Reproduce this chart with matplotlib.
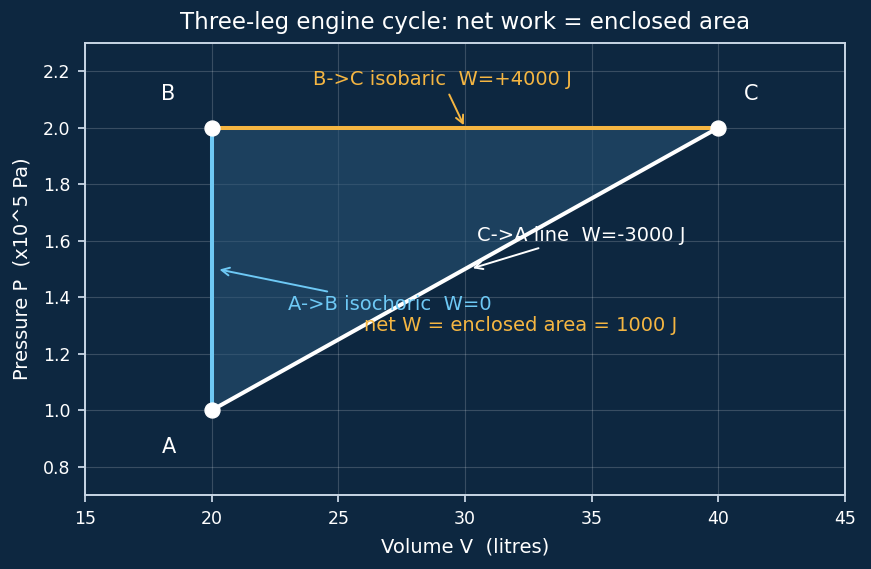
import matplotlib
matplotlib.use("Agg")
import matplotlib.pyplot as plt

# data
V_pts = [20, 20, 40]      # A, B, C (litres)
P_pts = [1.0, 2.0, 2.0]   # x10^5 Pa
names = ["A", "B", "C"]
name_pos = [(18.3, 0.87), (18.3, 2.12), (41.3, 2.12)]

BG = "#0d2740"
ORANGE = "#f5b642"
BLUE = "#6ec9f5"
WHITE = "#ffffff"
SPINE = "#c8d6e5"

fig = plt.figure(figsize=(8.71, 5.69), dpi=100, facecolor=BG)
ax = fig.add_axes([85/871, 1-495/569, 760/871, 452/569], facecolor=BG)

ax.fill(V_pts, P_pts, color="#2a5677", alpha=0.55, zorder=1, lw=0)
ax.plot([V_pts[0], V_pts[1]], [P_pts[0], P_pts[1]], color=BLUE, lw=2.9, zorder=3)
ax.plot([V_pts[1], V_pts[2]], [P_pts[1], P_pts[2]], color=ORANGE, lw=2.9, zorder=3)
ax.plot([V_pts[2], V_pts[0]], [P_pts[2], P_pts[0]], color=WHITE, lw=2.9, zorder=3)
ax.scatter(V_pts, P_pts, s=115, color=WHITE, zorder=5)

for n, (x, y) in zip(names, name_pos):
    ax.text(x, y, n, color=WHITE, fontsize=15, ha="center", va="center")

ax.annotate("B->C isobaric  W=+4000 J", xy=(30, 2.0), xytext=(29.1, 2.17),
            color=ORANGE, fontsize=14, ha="center", va="center",
            arrowprops=dict(arrowstyle="->", color=ORANGE, lw=1.4))
ax.annotate("C->A line  W=-3000 J", xy=(30.2, 1.5), xytext=(34.6, 1.62),
            color=WHITE, fontsize=14, ha="center", va="center",
            arrowprops=dict(arrowstyle="->", color=WHITE, lw=1.4))
ax.annotate("A->B isochoric  W=0", xy=(20.2, 1.5), xytext=(27.05, 1.375),
            color=BLUE, fontsize=14, ha="center", va="center",
            arrowprops=dict(arrowstyle="->", color=BLUE, lw=1.4))
ax.text(32.2, 1.3, "net W = enclosed area = 1000 J", color=ORANGE,
        fontsize=14, ha="center", va="center")

ax.set_xlim(15, 45)
ax.set_ylim(0.7, 2.3)
ax.set_xticks([15, 20, 25, 30, 35, 40, 45])
ax.set_yticks([0.8, 1.0, 1.2, 1.4, 1.6, 1.8, 2.0, 2.2])
ax.set_yticklabels(["0.8", "1.0", "1.2", "1.4", "1.6", "1.8", "2.0", "2.2"])
ax.grid(True, color=WHITE, alpha=0.18, lw=0.8)
ax.set_axisbelow(True)
for s in ax.spines.values():
    s.set_color(SPINE)
    s.set_linewidth(1.4)
ax.tick_params(colors=SPINE, labelcolor=WHITE, labelsize=12.5, length=5, width=1.3, pad=5.5)
ax.set_xlabel("Volume V  (litres)", color=WHITE, fontsize=14, labelpad=7)
ax.set_ylabel("Pressure P  (x10^5 Pa)", color=WHITE, fontsize=14, labelpad=8)
ax.set_title("Three-leg engine cycle: net work = enclosed area", color=WHITE, fontsize=16.5, pad=10)

fig.savefig("out.png", dpi=100, facecolor=BG)
